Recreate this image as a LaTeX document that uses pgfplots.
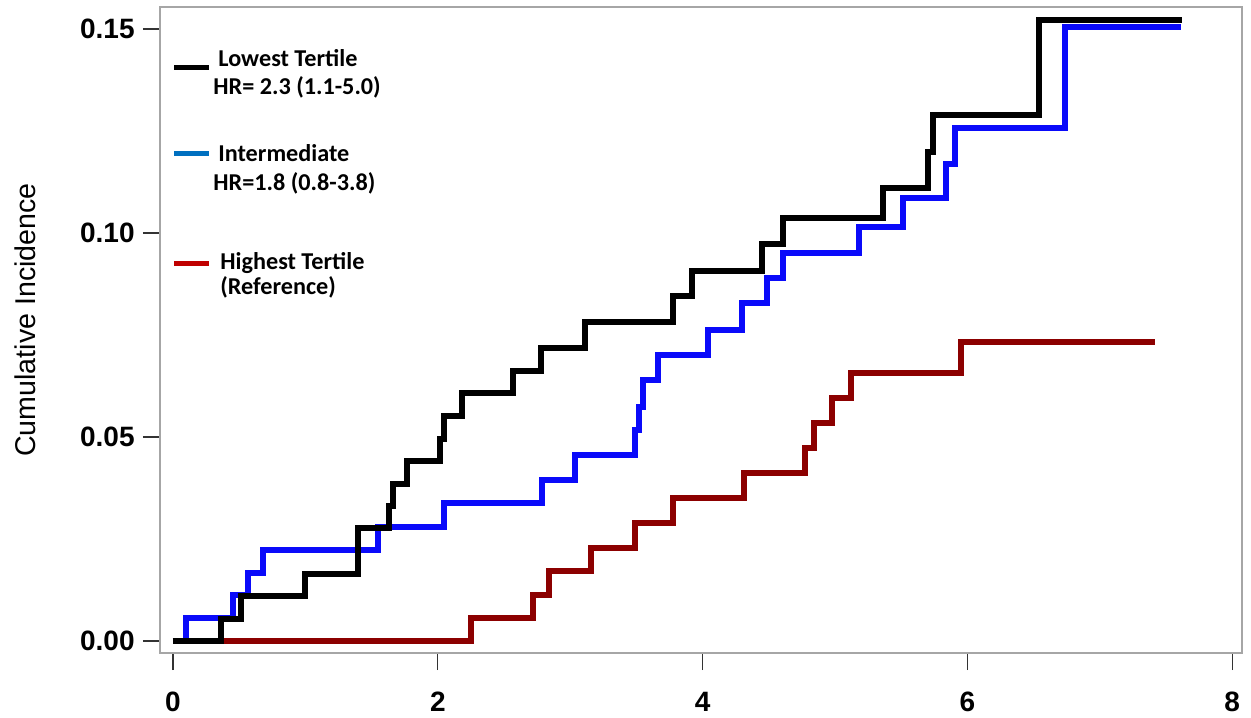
\documentclass[border=0pt]{standalone}
\usepackage{pgfplots}
\pgfplotsset{compat=1.18}
\usepackage{fontspec}
\setmainfont{Liberation Sans}
\newfontfamily\legendfont{Carlito}

\definecolor{kmblue}{RGB}{10,10,250}
\definecolor{kmred}{RGB}{140,0,0}
\definecolor{keyblue}{RGB}{0,112,192}
\definecolor{keyred}{RGB}{192,0,0}

% Cumulative incidence step curves by tertile
\pgfplotstableread{
t v
0 0
0.36 0.0055
0.51 0.0110
1.00 0.0165
1.40 0.0276
1.63 0.0331
1.66 0.0386
1.77 0.0441
2.02 0.0496
2.05 0.0551
2.18 0.0607
2.57 0.0662
2.78 0.0717
3.11 0.0782
3.78 0.0845
3.92 0.0908
4.45 0.0972
4.61 0.1037
5.36 0.1110
5.70 0.1199
5.74 0.1290
6.54 0.1522
7.62 0.1522
}\lowest

\pgfplotstableread{
t v
0 0
0.10 0.0056
0.45 0.0113
0.57 0.0167
0.68 0.0223
1.55 0.0280
2.05 0.0338
2.79 0.0395
3.04 0.0455
3.49 0.0517
3.52 0.0574
3.55 0.0640
3.66 0.0701
4.04 0.0762
4.30 0.0828
4.49 0.0890
4.61 0.0951
5.18 0.1015
5.51 0.1085
5.84 0.1170
5.91 0.1257
6.74 0.1505
7.61 0.1505
}\intermediate

\pgfplotstableread{
t v
0 0
2.25 0.0056
2.72 0.0113
2.84 0.0172
3.16 0.0228
3.49 0.0289
3.78 0.0350
4.31 0.0412
4.77 0.0473
4.84 0.0534
4.98 0.0596
5.12 0.0657
5.95 0.0733
7.42 0.0733
}\highest

\begin{document}
\begin{tikzpicture}
\path[use as bounding box] (-80pt,-32pt) rectangle (545.5pt,326.5pt);
\begin{axis}[
  at={(0,0)}, anchor=south west,
  scale only axis, width=541pt, height=323pt,
  xmin=-0.098, xmax=8.074, ymin=-0.00294, ymax=0.1554,
  xtick={0,2,4,6,8}, ytick={0,0.05,0.10,0.15},
  xtick pos=bottom, ytick pos=left,
  tick align=outside, major tick length=8.5pt,
  axis line style={gray!70, line width=0.7pt},
  tick style={black!80, line width=0.6pt},
  /pgf/number format/assume math mode=true,
  ticklabel style={font=\bfseries\fontsize{14}{16}\selectfont},
  yticklabel style={inner sep=0pt, xshift=-4pt,
    /pgf/number format/fixed, /pgf/number format/fixed zerofill,
    /pgf/number format/precision=2},
  xticklabel style={inner sep=0pt, yshift=-11pt},
  ylabel={Cumulative Incidence},
  ylabel style={font=\fontsize{14.3}{16}\selectfont, at={(axis description cs:-0.1248,0.5155)}, anchor=center},
  every axis plot/.append style={const plot, line width=3pt, line join=miter},
]
\addplot[kmred] table[x=t, y=v] {\highest};
\addplot[kmblue] table[x=t, y=v] {\intermediate};
\addplot[black] table[x=t, y=v] {\lowest};
\end{axis}

% key
\begin{scope}[every node/.style={inner sep=0pt, anchor=base west, font=\legendfont\bfseries\fontsize{12.1}{13}\selectfont}]
\draw[black, line width=2.5pt] (7pt,292.5pt) -- (24.5pt,292.5pt);
\node at (29pt,293pt) {Lowest Tertile};
\node at (26.5pt,279pt) {HR= 2.3 (1.1-5.0)};
\draw[keyblue, line width=2.5pt] (7pt,249.5pt) -- (24.5pt,249.5pt);
\node at (29pt,245.5pt) {Intermediate};
\node at (26.5pt,231pt) {HR=1.8 (0.8-3.8)};
\draw[keyred, line width=2.5pt] (7pt,194.5pt) -- (24.5pt,194.5pt);
\node at (30pt,191.5pt) {Highest Tertile};
\node at (30pt,179pt) {(Reference)};
\end{scope}
\end{tikzpicture}
\end{document}
